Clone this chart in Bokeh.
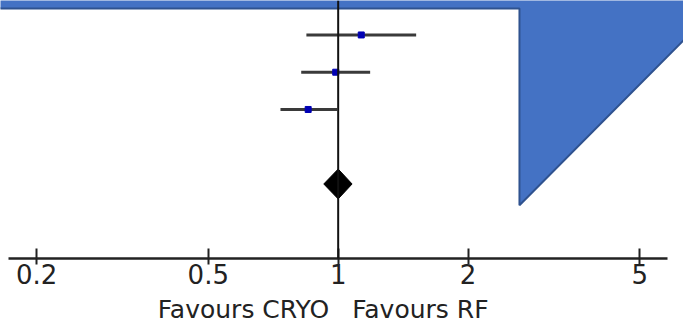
from bokeh.plotting import figure
from bokeh.layouts import column
from bokeh.models import Range1d, FixedTicker, Span, ColumnDataSource
from bokeh.core.properties import value
from bokeh.embed import file_html
from bokeh.resources import INLINE

# ---- data ----
study_rows = [0, 1, 2]
estimates = [1.131, 0.987, 0.852]
ci_low = [0.844, 0.821, 0.735]
ci_high = [1.516, 1.186, 0.995]

pooled_row = 4
pooled_est = 1.0
pooled_low = 0.926
pooled_high = 1.077

tick_values = [0.2, 0.5, 1, 2, 5]
tick_labels = ["0.2", "0.5", "1", "2", "5"]
null_value = 1
left_label = "Favours CRYO"
right_label = "Favours RF"

# slide decoration (blue banner + triangle), in plot coordinates
banner_x = [0.1, 8.0, 8.0, 2.631, 2.631, 0.1]
banner_y = [-2.0, -2.0, -1.05, 4.57, -0.71, -0.71]

# ---- styling / layout ----
FONT = "DejaVu Sans"
TEXT_COLOR = "#222222"
W = 683
PLOT_H = 294
LABEL_H = 30
DIAMOND_HALF = 0.4

x_range = Range1d(0.1650, 6.313)

p = figure(
    width=W, height=PLOT_H,
    x_axis_type="log",
    x_range=x_range,
    y_range=Range1d(6.0, -0.925),
    output_backend="svg",
    toolbar_location=None,
    min_border_left=0, min_border_right=0, min_border_top=0, min_border_bottom=PLOT_H - 258,
    y_axis_location=None,
)
p.outline_line_color = None
p.grid.visible = False
p.background_fill_color = "white"
p.border_fill_color = "white"

# decoration
p.patch(banner_x, banner_y, fill_color="#4472C4", line_color="#2F528F", line_width=2)

# null line
p.add_layout(Span(location=null_value, dimension="height", line_color="#111111", line_width=2))

# study CIs and points
src = ColumnDataSource(dict(row=study_rows, est=estimates, lo=ci_low, hi=ci_high))
p.segment(x0="lo", y0="row", x1="hi", y1="row", source=src, line_width=3, line_color="#3a3a3a")
p.scatter(x="est", y="row", source=src, marker="square", size=6,
          fill_color="#0000B4", line_color="#0000B4")

# pooled diamond
p.patch([pooled_low, pooled_est, pooled_high, pooled_est],
        [pooled_row, pooled_row - DIAMOND_HALF, pooled_row, pooled_row + DIAMOND_HALF],
        fill_color="black", line_color="black")

# axis
ax = p.xaxis[0]
ax.ticker = FixedTicker(ticks=tick_values, minor_ticks=[])
ax.major_label_overrides = {v: t for v, t in zip(tick_values, tick_labels)}
ax.bounds = (0.1724, 5.79)
ax.axis_line_width = 2.5
ax.axis_line_color = TEXT_COLOR
ax.major_tick_line_width = 2
ax.major_tick_line_color = TEXT_COLOR
ax.major_tick_in = 10
ax.major_tick_out = 6
ax.minor_tick_line_color = None
ax.major_label_standoff = -1
ax.major_label_text_font = FONT
ax.major_label_text_font_size = "26px"
ax.major_label_text_color = TEXT_COLOR

# "Favours ..." labels strip, sharing the x scale
q = figure(
    width=W, height=LABEL_H,
    x_axis_type="log",
    x_range=x_range,
    y_range=Range1d(0, 1),
    output_backend="svg",
    toolbar_location=None,
    min_border_left=0, min_border_right=0, min_border_top=0, min_border_bottom=0,
    x_axis_location=None, y_axis_location=None,
)
q.outline_line_color = None
q.grid.visible = False
q.background_fill_color = "white"
q.border_fill_color = "white"
q.text(x=[null_value], y=[0.5], text=[left_label], text_align="right", text_baseline="middle",
       x_offset=-9, text_font=value(FONT), text_font_size="25px", text_color=TEXT_COLOR)
q.text(x=[null_value], y=[0.5], text=[right_label], text_align="left", text_baseline="middle",
       x_offset=14, text_font=value(FONT), text_font_size="25px", text_color=TEXT_COLOR)

layout = column(p, q, spacing=0)
open("out.html", "w").write(file_html(layout, INLINE))
